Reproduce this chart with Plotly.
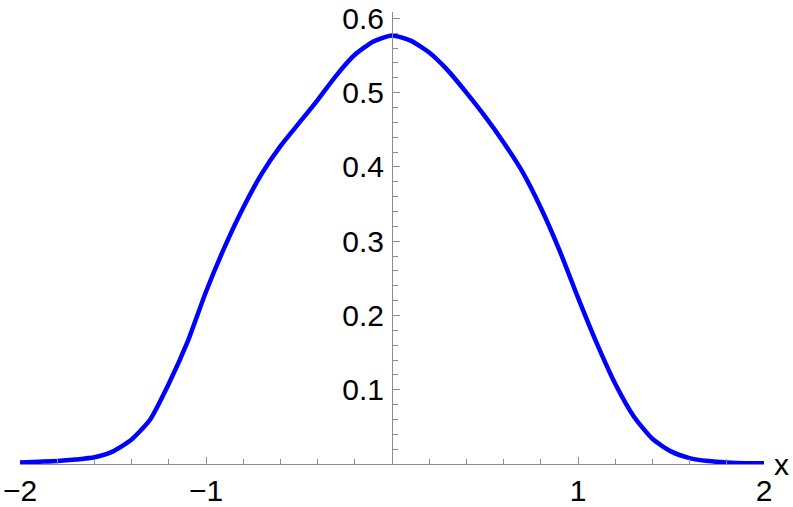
import plotly.graph_objects as go

# curve values, x step 0.1
x_values = [-2.0, -1.9, -1.8, -1.7, -1.6, -1.5, -1.4, -1.3, -1.2, -1.1, -1.0,
            -0.9, -0.8, -0.7, -0.6, -0.5, -0.4, -0.3, -0.2, -0.1, 0.0,
            0.1, 0.2, 0.3, 0.4, 0.5, 0.6, 0.7, 0.8, 0.9, 1.0,
            1.1, 1.2, 1.3, 1.4, 1.5, 1.6, 1.7, 1.8, 1.9, 2.0]
y_values = [0.002, 0.003, 0.004, 0.006, 0.009, 0.017, 0.033, 0.060, 0.108, 0.164, 0.232,
            0.292, 0.345, 0.391, 0.428, 0.459, 0.490, 0.523, 0.551, 0.569, 0.577,
            0.570, 0.554, 0.530, 0.500, 0.468, 0.433, 0.394, 0.345, 0.288, 0.224,
            0.163, 0.108, 0.064, 0.034, 0.017, 0.008, 0.004, 0.002, 0.001, 0.001]

x_ticks = [-2, -1, 1, 2]
x_tick_text = ["\u22122", "\u22121", "1", "2"]
y_ticks = [0.1, 0.2, 0.3, 0.4, 0.5, 0.6]
y_tick_text = ["0.1", "0.2", "0.3", "0.4", "0.5", "0.6"]

AXIS_GREY = "#8c8c8c"
FONT = dict(family="Liberation Sans, Arial, sans-serif", size=30, color="black")

fig = go.Figure()
fig.add_trace(
    go.Scatter(
        x=x_values,
        y=y_values,
        mode="lines",
        line=dict(color="#0000ff", width=4.5, shape="spline", smoothing=0.6),
        showlegend=False,
        hoverinfo="skip",
    )
)

fig.update_xaxes(
    range=[-2, 2],
    automargin=False,
    ticklabeloverflow="allow",
    showgrid=False,
    zeroline=False,
    showline=True,
    linecolor=AXIS_GREY,
    linewidth=1,
    ticks="inside",
    ticklen=7,
    tickcolor=AXIS_GREY,
    tickvals=x_ticks,
    ticktext=x_tick_text,
    tickfont=FONT,
    minor=dict(dtick=0.2, tick0=0, ticks="inside", ticklen=5, tickcolor=AXIS_GREY),
)
fig.update_yaxes(
    range=[0, 0.6086],
    automargin=False,
    ticklabeloverflow="allow",
    anchor="free",
    position=0.5,
    showgrid=False,
    zeroline=False,
    showline=True,
    linecolor=AXIS_GREY,
    linewidth=1,
    ticks="inside",
    ticklen=7,
    tickcolor=AXIS_GREY,
    tickvals=y_ticks,
    ticktext=y_tick_text,
    tickfont=FONT,
    ticklabelstandoff=2,
    minor=dict(dtick=0.02, tick0=0, ticks="inside", ticklen=5, tickcolor=AXIS_GREY),
)

fig.add_annotation(
    x=1, y=0, xref="paper", yref="y",
    text="x", showarrow=False,
    xanchor="left", yanchor="middle",
    xshift=8, yshift=0,
    font=FONT,
)

fig.update_layout(
    width=793,
    height=507,
    margin=dict(l=20, r=29, t=12, b=43),
    plot_bgcolor="white",
    paper_bgcolor="white",
)

# drop the default body margin so the figure sits at the page corner
fig.write_html(
    "out.html",
    config={"displayModeBar": False},
    post_script="document.body.style.margin = '0';",
)
